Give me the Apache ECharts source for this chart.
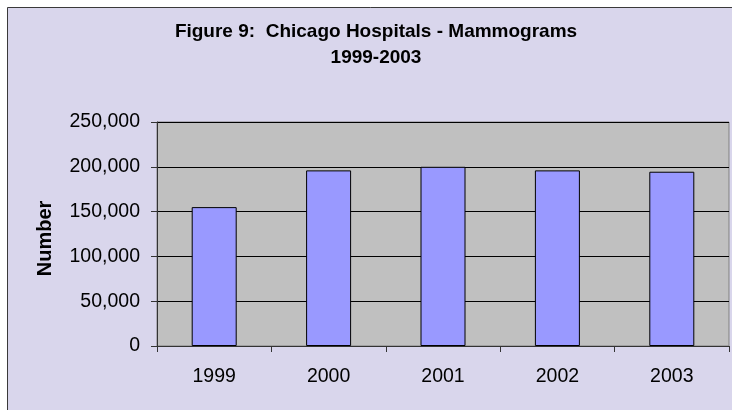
<!DOCTYPE html>
<html>
<head>
<meta charset="utf-8">
<title>Figure 9: Chicago Hospitals - Mammograms</title>
<script src="https://cdn.jsdelivr.net/npm/echarts@6/dist/echarts.min.js"></script>
<style>
  html, body { margin: 0; padding: 0; background: #fff; }
  #chart { width: 732px; height: 410px; }
</style>
</head>
<body>
<div id="chart"></div>
<script>
// values
const years = ["1999", "2000", "2001", "2002", "2003"];
const mammograms = [155000, 196000, 200000, 196000, 194500];
const titleLines = ["Figure 9:  Chicago Hospitals - Mammograms", "1999-2003"];
const yMax = 250000;
const yStep = 50000;

const chart = echarts.init(document.getElementById("chart"));

chart.setOption({
  backgroundColor: "#ffffff",
  animation: false,
  graphic: [
    {
      // chart area frame (cropped on the right and bottom)
      type: "rect",
      z: -100,
      shape: { x: 7.5, y: 7.5, width: 780, height: 460 },
      style: { fill: "#D9D6EC", stroke: "#3a3a3a", lineWidth: 1 },
    },
    {
      type: "text",
      x: 376,
      y: 19,
      z: 10,
      style: {
        text: titleLines.join("\n"),
        align: "center",
        verticalAlign: "top",
        lineHeight: 26,
        font: "bold 19px 'Liberation Sans', Arial, sans-serif",
        fill: "#000",
      },
    },
  ],
  grid: {
    left: 157,
    right: 3,
    top: 122,
    bottom: 64,
    show: true,
    backgroundColor: "#C0C0C0",
    borderColor: "#808080",
    borderWidth: 1,
  },
  xAxis: {
    type: "category",
    data: years,
    boundaryGap: true,
    axisLine: { show: true, lineStyle: { color: "#333", width: 1 } },
    axisTick: { show: true, length: 6, alignWithLabel: false, lineStyle: { color: "#333" } },
    axisLabel: {
      margin: 21,
      color: "#000",
      fontSize: 19.5,
      fontFamily: "'Liberation Sans', Arial, sans-serif",
    },
    splitLine: { show: false },
  },
  yAxis: {
    type: "value",
    min: 0,
    max: yMax,
    interval: yStep,
    name: "Number",
    nameLocation: "middle",
    nameRotate: 90,
    nameGap: 102,
    nameTextStyle: {
      color: "#000",
      fontSize: 20,
      fontWeight: "bold",
      fontFamily: "'Liberation Sans', Arial, sans-serif",
      padding: [0, 9, 0, 0],
    },
    axisLine: { show: true, lineStyle: { color: "#333", width: 1 } },
    axisTick: { show: true, length: 6, lineStyle: { color: "#333" } },
    axisLabel: {
      margin: 17,
      color: "#000",
      fontSize: 19.5,
      fontFamily: "'Liberation Sans', Arial, sans-serif",
      formatter: (v) => v.toLocaleString("en-US"),
    },
    splitLine: { show: true, lineStyle: { color: "#000", width: 1 } },
  },
  series: [
    {
      name: "Mammograms",
      type: "bar",
      data: mammograms,
      barWidth: 45,
      itemStyle: { color: "#9999FF", borderColor: "#000", borderWidth: 1 },
    },
  ],
});
</script>
</body>
</html>
